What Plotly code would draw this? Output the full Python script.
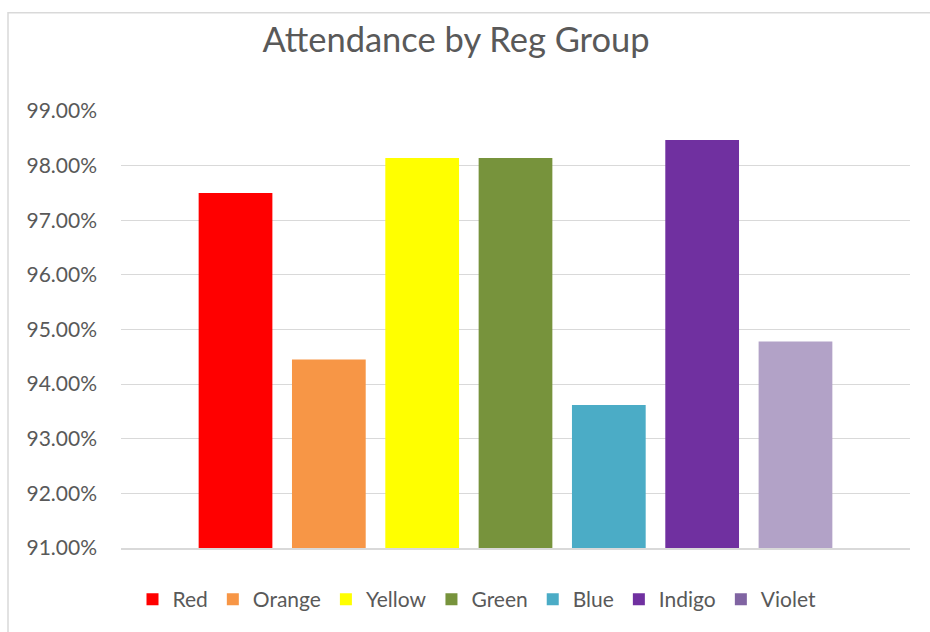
import plotly.graph_objects as go

groups = ["Red", "Orange", "Yellow", "Green", "Blue", "Indigo", "Violet"]
attendance = [0.9750, 0.9445, 0.9814, 0.9814, 0.9362, 0.9847, 0.9478]
bar_colors = ["#FF0000", "#F79646", "#FFFF00", "#77933C", "#4BACC6", "#7030A0", "#B2A2C7"]
legend_colors = ["#FF0000", "#F79646", "#FFFF00", "#77933C", "#4BACC6", "#7030A0", "#8064A2"]
category = ["Attendance"]

W, H = 930, 632
L, R, T, B = 121, 20, 111, 81
pw, ph = W - L - R, H - T - B

def px_x(p):
    return (p - L) / pw

def px_y(p):
    return (H - B - p) / ph

fig = go.Figure()
for name, val, col in zip(groups, attendance, bar_colors):
    fig.add_trace(go.Bar(x=category, y=[val], name=name, marker=dict(color=col, line=dict(width=0)),
                         showlegend=False))
for name, col in zip(groups, legend_colors):
    fig.add_trace(go.Scatter(x=[None], y=[None], mode="markers", name=name,
                             marker=dict(symbol="square", size=15, color=col)))

fig.update_layout(
    width=W, height=H,
    margin=dict(l=L, r=R, t=T, b=B),
    paper_bgcolor="white", plot_bgcolor="white",
    barmode="group", bargap=0.172, bargroupgap=0.21,
    font=dict(family="Lato", color="#595959", size=21),
    title=dict(text="Attendance by Reg Group", x=px_x(456), xref="paper", xanchor="center",
               y=1 - 40 / H, yref="container", yanchor="middle",
               font=dict(family="Lato", size=34.5, color="#595959")),
    legend=dict(orientation="h", x=px_x(477), xanchor="center", y=px_y(603), yanchor="middle",
                font=dict(family="Lato", size=21, color="#595959"), itemsizing="constant",
                bgcolor="rgba(0,0,0,0)"),
    xaxis=dict(showticklabels=False, showgrid=False, zeroline=False, showline=True,
               linecolor="#D9D9D9", linewidth=1.5, ticks=""),
    yaxis=dict(range=[0.91, 0.99], dtick=0.01, tick0=0.91, tickformat=".2%", showgrid=True,
               gridcolor="#D9D9D9", gridwidth=1.3, zeroline=False, showline=False, ticks="",
               ticklabelstandoff=23, tickfont=dict(family="Lato", size=21, color="#595959")),
    shapes=[dict(type="rect", xref="paper", yref="paper", x0=px_x(8), x1=px_x(960),
                 y0=px_y(700), y1=px_y(12), line=dict(color="#D9D9D9", width=1.5),
                 fillcolor="rgba(0,0,0,0)", layer="below")],
)

fig.write_html("out.html", config={"displayModeBar": False},
               post_script="document.body.style.margin='0';")
